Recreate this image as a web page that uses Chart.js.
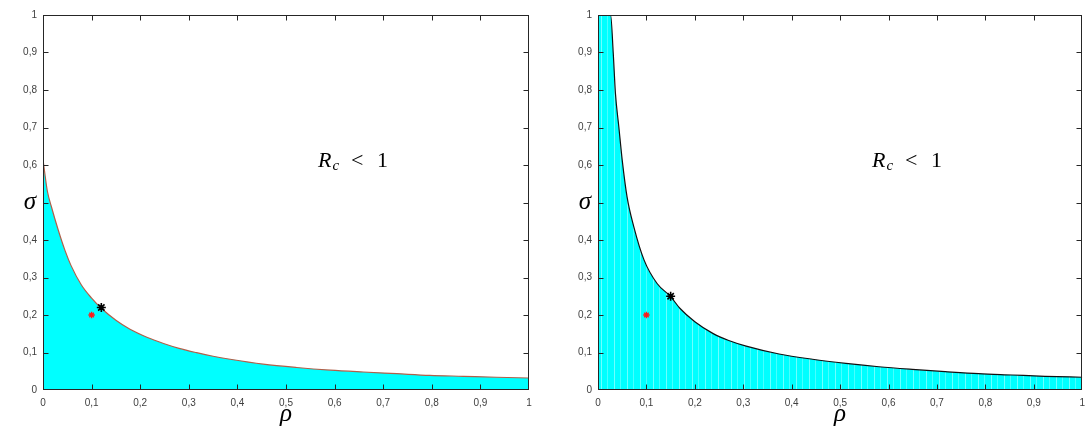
<!DOCTYPE html>
<html><head><meta charset="utf-8">
<script src="https://cdn.jsdelivr.net/npm/chart.js@4.4.0/dist/chart.umd.min.js"></script>
<style>
html,body{margin:0;padding:0;background:#fff;overflow:hidden;}
#wrap{position:relative;width:1092px;height:432px;}
.c{position:absolute;top:0;width:546px;height:432px;}
</style></head><body>
<div id="wrap">
<div class="c" style="left:0"><canvas id="c1" width="546" height="432"></canvas></div>
<div class="c" style="left:546px"><canvas id="c2" width="546" height="432"></canvas></div>
</div>
<script>
// ---- data ----
const tickValues = [0, 0.1, 0.2, 0.3, 0.4, 0.5, 0.6, 0.7, 0.8, 0.9, 1];
const xTickLabels = ['0', '0,1', '0,2', '0,3', '0,4', '0,5', '0,6', '0,7', '0,8', '0,9', '1'];
// the 0,5 label on the y axis is covered by the σ axis label in the reference
const yTickLabels = ['0', '0,1', '0,2', '0,3', '0,4', '', '0,6', '0,7', '0,8', '0,9', '1'];

const rhoLeft   = [0, 0.005, 0.009, 0.017, 0.031, 0.045, 0.058, 0.079, 0.10, 0.12, 0.15, 0.179, 0.215, 0.248, 0.28, 0.316, 0.35, 0.385, 0.453, 0.522, 0.591, 0.659, 0.728, 0.796, 0.865, 0.933, 1.0];
const sigmaLeft = [0.615, 0.565, 0.53, 0.49, 0.428, 0.373, 0.331, 0.280, 0.245, 0.218, 0.186, 0.162, 0.140, 0.124, 0.111, 0.0995, 0.090, 0.082, 0.069, 0.060, 0.053, 0.048, 0.0435, 0.039, 0.0365, 0.034, 0.032];

const rhoRight   = [0, 0.026, 0.0315, 0.036, 0.043, 0.05, 0.06, 0.074, 0.095, 0.122, 0.15, 0.169, 0.20, 0.237, 0.27, 0.306, 0.374, 0.443, 0.512, 0.58, 0.649, 0.717, 0.786, 0.855, 0.923, 1.0];
const sigmaRight = [1.0, 1.0, 0.898, 0.791, 0.702, 0.613, 0.515, 0.435, 0.347, 0.284, 0.249, 0.218, 0.182, 0.151, 0.132, 0.117, 0.096, 0.082, 0.071, 0.062, 0.055, 0.049, 0.0435, 0.040, 0.0365, 0.034];

const blackStarLeft  = {x: 0.12, y: 0.22};
const blackStarRight = {x: 0.15, y: 0.25};
const redStar        = {x: 0.10, y: 0.20};
const annotation     = {x: 0.566, y: 0.595};
const yTitleValue    = 0.5;

// ---- helpers ----
function streakPattern() {
  const c = document.createElement('canvas');
  c.width = 13; c.height = 4;
  const g = c.getContext('2d');
  g.fillStyle = '#00ffff'; g.fillRect(0, 0, 13, 4);
  g.fillStyle = 'rgba(200,255,255,0.55)'; g.fillRect(3, 0, 1, 4);
  g.fillStyle = 'rgba(180,255,255,0.4)'; g.fillRect(9, 0, 1, 4);
  return g.createPattern(c, 'repeat');
}

const boxPlugin = {
  id: 'box',
  afterDraw(chart) {
    const {ctx, chartArea: a, scales: {x, y}} = chart;
    ctx.save();
    ctx.strokeStyle = '#262626';
    ctx.lineWidth = 1;
    const L = Math.round(a.left) + 0.5, R = Math.round(a.right) - 0.5;
    const T = Math.round(a.top) + 0.5, B = Math.round(a.bottom) - 0.5;
    ctx.strokeRect(L, T, R - L, B - T);
    const len = 5;
    const clamp = (v, lo, hi) => Math.min(hi, Math.max(lo, v));
    ctx.beginPath();
    tickValues.forEach(v => {
      const px = clamp(Math.round(x.getPixelForValue(v)) + 0.5, L, R);
      ctx.moveTo(px, B); ctx.lineTo(px, B - len);
      ctx.moveTo(px, T); ctx.lineTo(px, T + len);
      const py = clamp(Math.round(y.getPixelForValue(v)) + 0.5, T, B);
      ctx.moveTo(L, py); ctx.lineTo(L + len, py);
      ctx.moveTo(R, py); ctx.lineTo(R - len, py);
    });
    ctx.stroke();
    // upright sigma axis label
    ctx.fillStyle = '#000';
    ctx.font = 'italic 25px "Liberation Serif", "DejaVu Serif", serif';
    ctx.textAlign = 'center';
    ctx.textBaseline = 'middle';
    ctx.fillText('σ', a.left - 13, y.getPixelForValue(yTitleValue));
    // annotation R_c < 1
    const ax = x.getPixelForValue(annotation.x), ay = y.getPixelForValue(annotation.y);
    ctx.textAlign = 'left';
    ctx.textBaseline = 'alphabetic';
    ctx.font = 'italic 22px "Liberation Serif", "DejaVu Serif", serif';
    ctx.fillText('R', ax, ay);
    ctx.font = 'italic 15px "Liberation Serif", "DejaVu Serif", serif';
    ctx.fillText('c', ax + 14.5, ay + 3);
    ctx.font = '22px "Liberation Serif", "DejaVu Serif", serif';
    ctx.fillText('<', ax + 33, ay);
    ctx.fillText('1', ax + 59, ay);
    ctx.restore();
  }
};

function makeChart(id, rho, sigma, lineColor, fillStyle, blackStar, yWidth, padRight) {
  const tickFont = {family: '"Liberation Sans", Arial, Helvetica, sans-serif', size: 10};
  const titleFont = {family: '"Liberation Serif", "DejaVu Serif", serif', size: 25, style: 'italic'};
  return new Chart(document.getElementById(id), {
    type: 'line',
    data: {
      datasets: [
        {
          data: [blackStar], showLine: false, pointStyle: 'star', pointRadius: 4.5,
          borderColor: '#000', backgroundColor: '#000', pointBorderWidth: 1.6, order: 0
        },
        {
          data: [redStar], showLine: false, pointStyle: 'star', pointRadius: 3.2,
          borderColor: '#ff1a1a', backgroundColor: '#ff1a1a', pointBorderWidth: 1.3, order: 0
        },
        {
          data: rho.map((r, i) => ({x: r, y: sigma[i]})),
          borderColor: lineColor, borderWidth: 1.2, pointRadius: 0, pointStyle: false,
          pointHitRadius: 0, pointHoverRadius: 0,
          fill: 'origin', backgroundColor: fillStyle,
          cubicInterpolationMode: 'monotone', order: 1
        }
      ]
    },
    options: {
      responsive: false,
      animation: false,
      events: [],
      layout: {padding: {top: 15, right: padRight, left: 0, bottom: 0}},
      plugins: {legend: {display: false}, tooltip: {enabled: false}},
      scales: {
        x: {
          type: 'linear', min: 0, max: 1,
          afterBuildTicks: s => { s.ticks = tickValues.map(v => ({value: v})); },
          ticks: {
            autoSkip: false, maxRotation: 0, font: tickFont, color: '#404040', padding: 7,
            callback: v => xTickLabels[tickValues.indexOf(Math.round(v * 10) / 10)]
          },
          grid: {display: false, drawTicks: false},
          border: {display: false},
          title: {display: true, text: 'ρ', font: titleFont, color: '#000', padding: {top: 0, bottom: 3}},
          afterFit: s => { s.height = 42; }
        },
        y: {
          type: 'linear', min: 0, max: 1,
          afterBuildTicks: s => { s.ticks = tickValues.map(v => ({value: v})); },
          ticks: {
            autoSkip: false, font: tickFont, color: '#404040', padding: 6,
            callback: v => yTickLabels[tickValues.indexOf(Math.round(v * 10) / 10)]
          },
          grid: {display: false, drawTicks: false},
          border: {display: false},
          title: {display: false},
          afterFit: s => { s.width = yWidth; }
        }
      }
    },
    plugins: [boxPlugin]
  });
}

makeChart('c1', rhoLeft, sigmaLeft, '#b0604a', '#00ffff', blackStarLeft, 43, 17);
makeChart('c2', rhoRight, sigmaRight, '#111111', streakPattern(), blackStarRight, 52, 8);
</script>
</body></html>
